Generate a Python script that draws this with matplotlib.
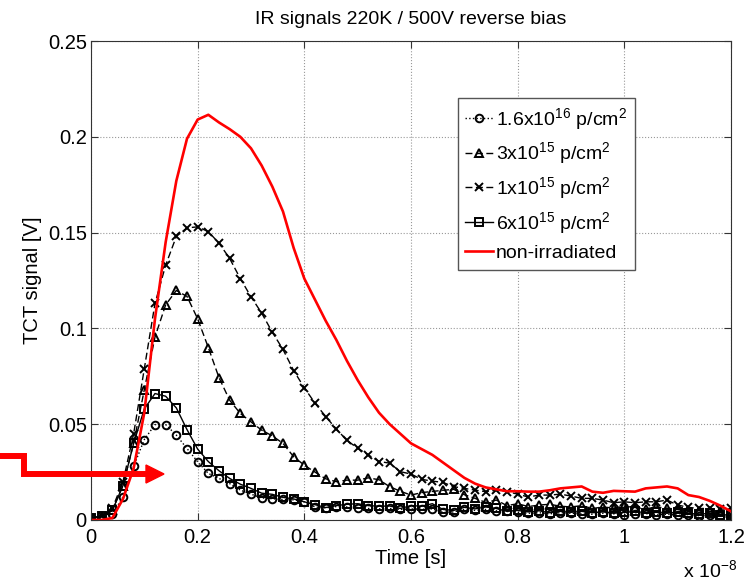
import matplotlib

matplotlib.use("Agg")
import matplotlib.pyplot as plt
from matplotlib.lines import Line2D
from matplotlib.patches import Polygon
from matplotlib.ticker import FormatStrFormatter

# Use an Arial-like font, also inside the mathtext superscripts.
plt.rcParams["font.family"] = ["Liberation Sans", "DejaVu Sans"]
plt.rcParams["mathtext.fontset"] = "custom"
plt.rcParams["mathtext.rm"] = "Liberation Sans"
plt.rcParams["mathtext.it"] = "Liberation Sans:italic"

# Time samples (in units of 1e-8 s).
time = [
    0.00, 0.02, 0.04, 0.06, 0.08, 0.10, 0.12, 0.14, 0.16, 0.18,
    0.20, 0.22, 0.24, 0.26, 0.28, 0.30, 0.32, 0.34, 0.36, 0.38,
    0.40, 0.42, 0.44, 0.46, 0.48, 0.50, 0.52, 0.54, 0.56, 0.58,
    0.60, 0.62, 0.64, 0.66, 0.68, 0.70, 0.72, 0.74, 0.76, 0.78,
    0.80, 0.82, 0.84, 0.86, 0.88, 0.90, 0.92, 0.94, 0.96, 0.98,
    1.00, 1.02, 1.04, 1.06, 1.08, 1.10, 1.12, 1.14, 1.16, 1.18,
    1.20,
]

# TCT signals [V] for each fluence.
signal_16e15 = [
    0.001, 0.001, 0.003, 0.012, 0.028, 0.042, 0.0498, 0.0498, 0.0443, 0.0373,
    0.0304, 0.0243, 0.0217, 0.0190, 0.0156, 0.0135, 0.0115, 0.0111, 0.0107, 0.0105,
    0.0095, 0.0068, 0.0063, 0.0070, 0.0068, 0.0065, 0.0060, 0.0058, 0.0060, 0.0055,
    0.0058, 0.0056, 0.0058, 0.0040, 0.0042, 0.0055, 0.0050, 0.0055, 0.0048, 0.0045,
    0.0040, 0.0035, 0.0038, 0.0032, 0.0038, 0.0035, 0.0032, 0.0030, 0.0035, 0.0032,
    0.0028, 0.0030, 0.0033, 0.0028, 0.0030, 0.0025, 0.0028, 0.0022, 0.0025, 0.0020,
    0.0010,
]
signal_3e15 = [
    0.001, 0.002, 0.005, 0.018, 0.040, 0.068, 0.0955, 0.1123, 0.1198, 0.1167,
    0.1050, 0.0900, 0.0743, 0.0625, 0.0556, 0.0512, 0.0469, 0.0439, 0.0400, 0.0330,
    0.0286, 0.0250, 0.0215, 0.0200, 0.0208, 0.0208, 0.0220, 0.0210, 0.0174, 0.0150,
    0.0130, 0.0143, 0.0149, 0.0155, 0.0160, 0.0132, 0.0113, 0.0092, 0.0104, 0.0075,
    0.0085, 0.0070, 0.0078, 0.0082, 0.0072, 0.0068, 0.0075, 0.0060, 0.0068, 0.0062,
    0.0072, 0.0065, 0.0058, 0.0068, 0.0062, 0.0055, 0.0050, 0.0048, 0.0045, 0.0040,
    0.0035,
]
signal_1e15 = [
    0.001, 0.002, 0.006, 0.020, 0.045, 0.079, 0.113, 0.133, 0.148, 0.1525,
    0.153, 0.1505, 0.1445, 0.1365, 0.126, 0.1165, 0.108, 0.098, 0.089, 0.078,
    0.069, 0.061, 0.054, 0.0475, 0.0415, 0.0375, 0.034, 0.0305, 0.0297, 0.0252,
    0.024, 0.0212, 0.0203, 0.0196, 0.0174, 0.0165, 0.0156, 0.0148, 0.0156, 0.0148,
    0.0135, 0.0120, 0.0130, 0.0130, 0.0135, 0.0125, 0.0113, 0.0113, 0.0104, 0.0090,
    0.0095, 0.0090, 0.0095, 0.0095, 0.0104, 0.0078, 0.0066, 0.0060, 0.0060, 0.0056,
    0.0060,
]
signal_6e15 = [
    0.001, 0.002, 0.005, 0.018, 0.040, 0.058, 0.066, 0.0646, 0.0585, 0.0472,
    0.0370, 0.0305, 0.0257, 0.0217, 0.0187, 0.0165, 0.0140, 0.0134, 0.0118, 0.0110,
    0.0095, 0.0080, 0.0065, 0.0075, 0.0082, 0.0085, 0.0075, 0.0072, 0.0073, 0.0060,
    0.0075, 0.0072, 0.0085, 0.0055, 0.0050, 0.0066, 0.0058, 0.0068, 0.0060, 0.0045,
    0.0050, 0.0042, 0.0048, 0.0038, 0.0045, 0.0040, 0.0045, 0.0038, 0.0042, 0.0035,
    0.0040, 0.0045, 0.0038, 0.0040, 0.0035, 0.0042, 0.0035, 0.0030, 0.0035, 0.0028,
    0.0025,
]
signal_non_irradiated = [
    0.000, 0.000, 0.001, 0.011, 0.027, 0.056, 0.105, 0.145, 0.177, 0.199,
    0.209, 0.2115, 0.2075, 0.204, 0.200, 0.194, 0.185, 0.174, 0.161, 0.142,
    0.126, 0.115, 0.104, 0.094, 0.083, 0.073, 0.064, 0.056, 0.050, 0.045,
    0.040, 0.037, 0.034, 0.030, 0.026, 0.022, 0.019, 0.017, 0.016, 0.015,
    0.015, 0.0148, 0.0148, 0.0155, 0.0165, 0.017, 0.0175, 0.0148, 0.0142, 0.0152,
    0.015, 0.0148, 0.0165, 0.017, 0.0175, 0.0165, 0.013, 0.012, 0.010, 0.0075,
    0.0045,
]

labels = [
    r"1.6x10$^{16}$ p/cm$^2$",
    r"3x10$^{15}$ p/cm$^2$",
    r"1x10$^{15}$ p/cm$^2$",
    r"6x10$^{15}$ p/cm$^2$",
    "non-irradiated",
]

# Create the figure with the axes placed as in the original MATLAB plot.
fig = plt.figure(figsize=(7.47, 5.81), dpi=100)
ax = fig.add_axes([0.1218, 0.105, 0.8568, 0.8244])

marker_style = dict(color="black", linewidth=1.0, markersize=5.5,
                    markerfacecolor="none", markeredgewidth=1.4)
ax.plot(time, signal_16e15, linestyle=":", marker="o", label=labels[0], **marker_style)
ax.plot(time, signal_3e15, linestyle=(0, (5, 2.5)), marker="^", label=labels[1], **marker_style)
ax.plot(time, signal_1e15, linestyle=(0, (5, 2.5)), marker="x", label=labels[2], **marker_style)
ax.plot(time, signal_6e15, linestyle="-", marker="s", label=labels[3], **marker_style)
ax.plot(time, signal_non_irradiated, color="red", linewidth=1.9, label=labels[4])

# Axis limits, ticks and grid in MATLAB style.
ax.set_xlim(0, 1.2)
ax.set_ylim(0, 0.25)
ax.set_xticks([0, 0.2, 0.4, 0.6, 0.8, 1.0, 1.2])
ax.set_yticks([0, 0.05, 0.1, 0.15, 0.2, 0.25])
ax.xaxis.set_major_formatter(FormatStrFormatter("%g"))
ax.yaxis.set_major_formatter(FormatStrFormatter("%g"))
ax.tick_params(direction="in", top=True, right=True, labelsize=14.5, length=5,
               color="#333333", pad=6)
ax.tick_params(axis="y", pad=3)
ax.grid(True, linestyle=":", color="#999999", linewidth=0.8)
for spine in ax.spines.values():
    spine.set_color("#333333")

ax.set_title("IR signals 220K / 500V reverse bias", fontsize=14, pad=12)
ax.set_xlabel("Time [s]", fontsize=14.5, labelpad=1)
ax.set_ylabel("TCT signal [V]", fontsize=14.5, labelpad=4)
fig.text(683 / 747, 1 - 570 / 581, r"x 10$^{-8}$", fontsize=14, ha="left", va="center")

ax.legend(loc="upper left", bbox_to_anchor=(0.573, 0.881), borderaxespad=0,
          fontsize=14, fancybox=False, framealpha=1, edgecolor="#555555",
          handlelength=1.4, handletextpad=0.15, labelspacing=0.45,
          borderpad=0.4)

# Red hand-drawn arrow pointing at the 1.6x10^16 curve (figure pixel coordinates).
arrow_x = [0, 24, 24, 147]
arrow_y = [456, 456, 474, 474]
fig.add_artist(Line2D([x / 747 for x in arrow_x], [1 - y / 581 for y in arrow_y],
                      color="red", linewidth=4.3, solid_joinstyle="miter",
                      transform=fig.transFigure))
head_x = [146, 164, 146]
head_y = [465, 474, 483]
fig.add_artist(Polygon(list(zip([x / 747 for x in head_x], [1 - y / 581 for y in head_y])),
                       closed=True, color="red", transform=fig.transFigure))

fig.savefig("out.png", dpi=100)
